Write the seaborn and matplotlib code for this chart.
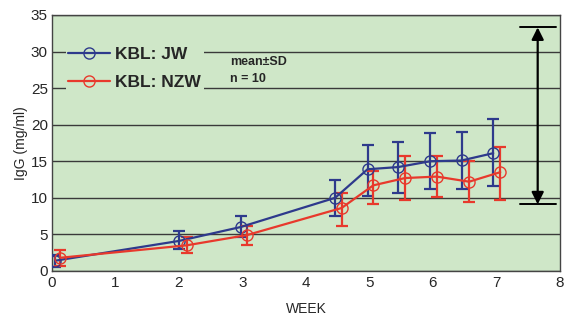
import matplotlib
matplotlib.use("Agg")
import matplotlib.pyplot as plt
import seaborn as sns
import pandas as pd
from matplotlib.lines import Line2D

# Data
jw_week = [0.05, 2.0, 2.97, 4.46, 4.97, 5.45, 5.96, 6.45, 6.95]
jw_mean = [1.4, 4.1, 6.0, 10.0, 13.9, 14.2, 15.0, 15.1, 16.1]
jw_upper = [2.2, 5.4, 7.5, 12.5, 17.2, 17.6, 18.8, 19.0, 20.8]
jw_lower = [0.6, 3.0, 4.6, 7.5, 10.3, 10.6, 11.2, 11.2, 11.6]

nzw_week = [0.13, 2.12, 3.07, 4.56, 5.06, 5.56, 6.06, 6.57, 7.06]
nzw_mean = [1.8, 3.5, 4.9, 8.6, 11.7, 12.7, 12.9, 12.2, 13.5]
nzw_upper = [2.9, 4.6, 6.2, 10.7, 13.6, 15.7, 15.7, 15.0, 17.0]
nzw_lower = [0.7, 2.4, 3.6, 6.2, 9.2, 9.7, 10.1, 9.4, 9.7]

labels = ["KBL: JW", "KBL: NZW"]
colors = ["#2e3a8c", "#e8392c"]
bg = "#cfe7c8"

sns.set_theme(style="white")
plt.rcParams['font.family'] = ['Liberation Sans', 'DejaVu Sans']

fig = plt.figure(figsize=(5.65, 3.18), dpi=100)
ax = fig.add_axes([0.092, 0.148, 0.899, 0.805])
ax.set_facecolor(bg)

df_jw = pd.DataFrame({"week": jw_week, "igg": jw_mean})
df_nzw = pd.DataFrame({"week": nzw_week, "igg": nzw_mean})

series = [
    (df_jw, jw_mean, jw_upper, jw_lower, colors[0], labels[0]),
    (df_nzw, nzw_mean, nzw_upper, nzw_lower, colors[1], labels[1]),
]
for df, m, up, lo, c, lab in series:
    yerr = [[mi - l for mi, l in zip(m, lo)], [u - mi for mi, u in zip(m, up)]]
    ax.errorbar(df["week"], df["igg"], yerr=yerr, fmt="none", ecolor=c,
                elinewidth=1.6, capsize=4, capthick=1.6, zorder=3)
    sns.lineplot(data=df, x="week", y="igg", ax=ax, color=c, linewidth=1.6,
                 marker="o", markersize=8, markerfacecolor="none",
                 markeredgecolor=c, markeredgewidth=1.0, zorder=4)

ax.set_xlim(0, 8)
ax.set_ylim(0, 35)
ax.set_xticks(range(0, 9))
ax.set_yticks(range(0, 36, 5))
ax.yaxis.grid(True, color="#3a3a3a", linewidth=1.0)
ax.xaxis.grid(False)
ax.set_axisbelow(True)
for s in ax.spines.values():
    s.set_color("#444444")
    s.set_linewidth(1.0)
ax.tick_params(axis="x", direction="in", length=4, color="#888888",
               labelsize=11, pad=4)
ax.tick_params(axis="y", length=0, labelsize=11, pad=3)
ax.set_xlabel("WEEK", fontsize=10, labelpad=8)
ax.set_ylabel("IgG (mg/ml)", fontsize=10, labelpad=2)

# Double-headed arrow on the right
ax.annotate("", xy=(7.65, 33.3), xytext=(7.65, 9.1),
            arrowprops=dict(arrowstyle="<|-|>", color="black", lw=1.6,
                            mutation_scale=18, shrinkA=0, shrinkB=0))
ax.plot([7.37, 7.94], [33.3, 33.3], color="black", lw=1.4)
ax.plot([7.37, 7.94], [9.1, 9.1], color="black", lw=1.4)

handles = [Line2D([0], [0], color=c, lw=1.6, marker="o", markersize=8,
                  markerfacecolor="none", markeredgecolor=c, markeredgewidth=1.0)
           for c in colors]
leg = ax.legend(handles, labels, loc="upper left", bbox_to_anchor=(0.027, 0.885),
                frameon=True, facecolor=bg, edgecolor="none", framealpha=1,
                prop=dict(size=12.5, weight="bold"), handlelength=2.4,
                handletextpad=0.3, labelspacing=0.72, borderpad=0.15,
                borderaxespad=0)

ax.text(2.8, 28.6, "mean\u00b1SD", fontsize=9, va="center", ha="left",
        weight="semibold")
ax.text(2.8, 26.3, "n = 10", fontsize=9, va="center", ha="left",
        weight="semibold")

fig.savefig("out.png", dpi=100)
